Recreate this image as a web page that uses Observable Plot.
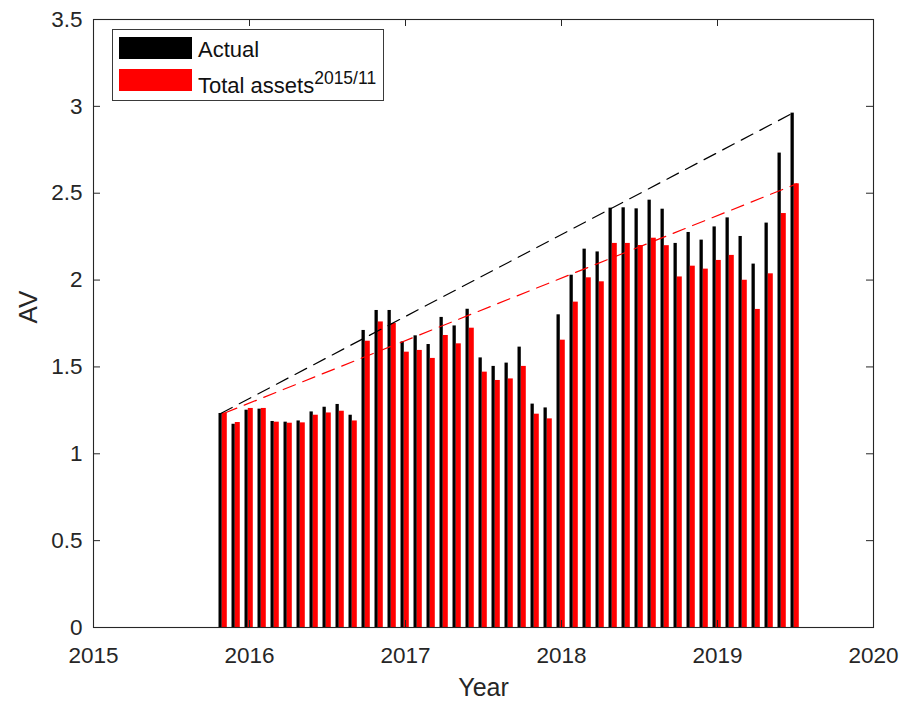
<!DOCTYPE html>
<html>
<head>
<meta charset="utf-8">
<script src="https://cdn.jsdelivr.net/npm/d3@7"></script>
<script src="https://cdn.jsdelivr.net/npm/@observablehq/plot@0.6"></script>
<style>
  body { margin: 0; background: white; }
  #chart { position: relative; width: 903px; height: 702px; font-family: "Liberation Sans", Arial, sans-serif; color: #262626; }
  #legend { position: absolute; left: 112px; top: 29px; width: 272px; height: 72px; box-sizing: border-box;
            border: 1px solid #3a3a3a; background: white; }
  #legend .sw { position: absolute; left: 6px; width: 73px; height: 22px; }
  #legend .lab { position: absolute; left: 85px; font-size: 22px; line-height: 22px; white-space: nowrap; color: #111; }
  #legend sup { font-size: 17.5px; vertical-align: 9px; line-height: 0; }
</style>
</head>
<body>
<div id="chart"></div>
<script>
// monthly observations, Nov 2015 - Jul 2019
const months = [
  "2015/11", "2015/12",
  "2016/01", "2016/02", "2016/03", "2016/04", "2016/05", "2016/06",
  "2016/07", "2016/08", "2016/09", "2016/10", "2016/11", "2016/12",
  "2017/01", "2017/02", "2017/03", "2017/04", "2017/05", "2017/06",
  "2017/07", "2017/08", "2017/09", "2017/10", "2017/11", "2017/12",
  "2018/01", "2018/02", "2018/03", "2018/04", "2018/05", "2018/06",
  "2018/07", "2018/08", "2018/09", "2018/10", "2018/11", "2018/12",
  "2019/01", "2019/02", "2019/03", "2019/04", "2019/05", "2019/06", "2019/07"
];

const actual = [
  1.232, 1.170,
  1.251, 1.257, 1.186, 1.182, 1.189, 1.241,
  1.268, 1.284, 1.222, 1.710, 1.825, 1.825,
  1.644, 1.679, 1.629, 1.785, 1.736, 1.832,
  1.552, 1.503, 1.522, 1.614, 1.286, 1.264,
  1.800, 2.028, 2.178, 2.162, 2.414, 2.416,
  2.410, 2.460, 2.408, 2.211, 2.274, 2.230,
  2.306, 2.358, 2.251, 2.092, 2.328, 2.731, 2.961
];

const totalAssets = [
  1.235, 1.180,
  1.261, 1.261, 1.182, 1.176, 1.178, 1.222,
  1.235, 1.245, 1.189, 1.648, 1.759, 1.750,
  1.585, 1.595, 1.549, 1.681, 1.633, 1.723,
  1.470, 1.422, 1.431, 1.503, 1.228, 1.201,
  1.654, 1.873, 2.013, 1.990, 2.211, 2.211,
  2.199, 2.241, 2.198, 2.018, 2.080, 2.063,
  2.113, 2.142, 1.999, 1.831, 2.036, 2.383, 2.554
];

const yearTicks = [2015, 2016, 2017, 2018, 2019, 2020];
const yTicks = [0, 0.5, 1, 1.5, 2, 2.5, 3, 3.5];

const rows = months.map((m, i) => {
  const [yy, mm] = m.split("/").map(Number);
  return { t: yy + (mm - 1) / 12, actual: actual[i], total: totalAssets[i] };
});

const first = rows[0];
const last = rows[rows.length - 1];
const blackTrend = [
  { x: first.t - 0.018, y: first.actual },
  { x: last.t - 0.018, y: last.actual }
];
const redTrend = [
  { x: first.t + 0.008, y: first.total },
  { x: last.t + 0.008, y: last.total }
];

const axisColor = "#262626";
const xTick = 7 / 156; // tick length in years
const yTick = 7 / 174; // tick length in AV units

const chart = Plot.plot({
  width: 903,
  height: 702,
  marginLeft: 93,
  marginRight: 30,
  marginTop: 19,
  marginBottom: 75,
  style: {
    fontFamily: "'Liberation Sans', Arial, sans-serif",
    fontSize: "22.5px",
    color: axisColor,
    background: "white",
    overflow: "visible"
  },
  x: { domain: [2015, 2020] },
  y: { domain: [0, 3.5] },
  marks: [
    Plot.rectY(rows, {
      x1: (d) => d.t - 0.0288,
      x2: (d) => d.t - 0.0077,
      y1: 0,
      y2: "actual",
      fill: "black"
    }),
    Plot.rectY(rows, {
      x1: (d) => d.t - 0.0077,
      x2: (d) => d.t + 0.0243,
      y1: 0,
      y2: "total",
      fill: "#ff0000"
    }),
    Plot.line(blackTrend, { x: "x", y: "y", stroke: "black", strokeWidth: 1.2, strokeDasharray: "13,8" }),
    Plot.line(redTrend, { x: "x", y: "y", stroke: "#ff0000", strokeWidth: 1.2, strokeDasharray: "13,8" }),
    // inward ticks on all four sides (box on)
    Plot.ruleX(yearTicks, { y1: 0, y2: yTick, stroke: axisColor }),
    Plot.ruleX(yearTicks, { y1: 3.5, y2: 3.5 - yTick, stroke: axisColor }),
    Plot.ruleY(yTicks, { x1: 2015, x2: 2015 + xTick, stroke: axisColor }),
    Plot.ruleY(yTicks, { x1: 2020, x2: 2020 - xTick, stroke: axisColor }),
    Plot.frame({ stroke: axisColor, strokeWidth: 1.1 }),
    Plot.axisX({ ticks: yearTicks, tickSize: 0, tickPadding: 20, tickFormat: (d) => String(d), label: null }),
    Plot.axisY({ ticks: yTicks, tickSize: 0, tickPadding: 11, tickFormat: (d) => String(d), label: null }),
    Plot.text(["Year"], { frameAnchor: "bottom", dy: 68, fontSize: 25, fill: axisColor }),
    Plot.text(["AV"], { frameAnchor: "left", dx: -65, rotate: -90, fontSize: 26, fill: axisColor })
  ]
});

const holder = document.getElementById("chart");
holder.appendChild(chart);

const legend = document.createElement("div");
legend.id = "legend";
legend.innerHTML = `
  <div class="sw" style="top:7px;background:black"></div>
  <div class="lab" style="top:9px">Actual</div>
  <div class="sw" style="top:39px;background:#ff0000"></div>
  <div class="lab" style="top:45px">Total assets<sup>2015/11</sup></div>`;
holder.appendChild(legend);
</script>
</body>
</html>
